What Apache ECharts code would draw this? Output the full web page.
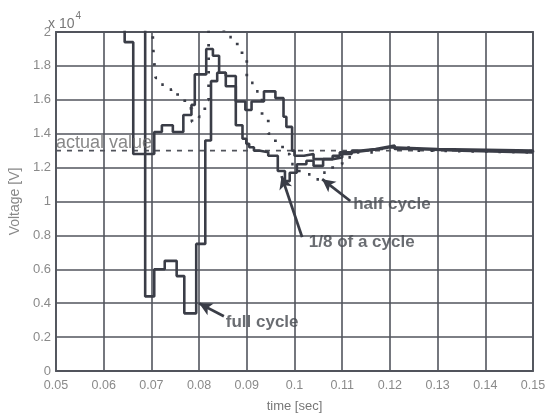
<!DOCTYPE html>
<html>
<head>
<meta charset="utf-8">
<script src="https://cdn.jsdelivr.net/npm/echarts@6/dist/echarts.min.js"></script>
<style>
html,body{margin:0;padding:0;background:#fff;}
#chart{width:551px;height:418px;}
</style>
</head>
<body>
<div id="chart"></div>
<script>
// ---- data (voltage in units of 10^4 V, time in sec) ----
const xTickLabels = ['0.05','0.06','0.07','0.08','0.09','0.1','0.11','0.12','0.13','0.14','0.15'];
const yTickLabels = ['0','0.2','0.4','0.6','0.8','1','1.2','1.4','1.6','1.8','2'];

const fullCycleT = [0.05,0.0644,0.0662,0.0687,0.0706,0.0728,0.0753,0.0769,0.0794,0.0813,0.0825,0.0838,0.0856,0.0877,0.0891,0.0899,0.0905,0.0915,0.0928,0.0945,0.0965,0.0980,0.0990,0.1005,0.1025,0.1040,0.1060,0.1080,0.1095,0.1120,0.1150,0.1180,0.1200,0.1300,0.1500];
const fullCycleV = [2.1,1.94,1.28,0.44,0.60,0.65,0.56,0.34,0.75,1.36,1.71,1.76,1.68,1.45,1.37,1.34,1.32,1.30,1.29,1.27,1.18,1.12,1.17,1.22,1.24,1.21,1.25,1.27,1.29,1.30,1.31,1.32,1.31,1.30,1.29];

const eighthCycleT = [0.05,0.0687,0.0706,0.0722,0.0745,0.0767,0.0784,0.0791,0.0815,0.0829,0.0842,0.0856,0.0877,0.0897,0.0910,0.0936,0.0960,0.0977,0.0983,0.0995,0.1000,0.1020,0.1040,0.1080,0.1100,0.1120,0.1140,0.1170,0.1190,0.1210,0.1250,0.1350,0.1500];
const eighthCycleV = [2.1,1.28,1.41,1.45,1.41,1.51,1.57,1.75,1.90,1.86,1.76,1.74,1.59,1.54,1.59,1.65,1.61,1.50,1.44,1.30,1.27,1.28,1.25,1.26,1.28,1.30,1.31,1.32,1.33,1.31,1.30,1.29,1.29];

const halfCycleT = [0.05,0.0703,0.0706,0.0709,0.0718,0.0728,0.0742,0.0755,0.0770,0.0785,0.0800,0.0812,0.0820,0.0852,0.0880,0.0890,0.0900,0.0918,0.0932,0.0945,0.0960,0.0975,0.0990,0.1010,0.1040,0.1060,0.1080,0.1100,0.1130,0.1170,0.1200,0.1250,0.1300,0.1500];
const halfCycleV = [2.2,1.93,1.82,1.73,1.69,1.66,1.67,1.62,1.55,1.47,1.50,1.60,2.2,1.97,1.92,1.86,1.70,1.65,1.50,1.40,1.34,1.28,1.22,1.16,1.13,1.17,1.22,1.26,1.29,1.31,1.32,1.30,1.29,1.29];

const actualValue = 1.3;

// annotations: [text, t, v]
const annotationTexts = ['full cycle','half cycle','1/8 of a cycle'];
const annotationT = [0.0856,0.1123,0.1030];
const annotationV = [0.287,0.985,0.76];
// arrows: from [t,v] to [t,v]
const arrowFrom = [[0.0852,0.323],[0.1117,1.003],[0.1016,0.79]];
const arrowTo   = [[0.0800,0.399],[0.1058,1.132],[0.0973,1.15]];

const actualLabel = 'actual value';
const actualLabelPos = [0.0500, 1.345];

// ---- chart ----
const zip = (t, v) => t.map((x, i) => [x, v[i]]);
const traceColor = '#3a3d47';
const gridColor = '#52555d';

const chart = echarts.init(document.getElementById('chart'), null, {renderer: 'canvas'});

const option = {
  backgroundColor: '#ffffff',
  animation: false,
  grid: {left: 47, right: 18, top: 32, bottom: 45, show: true, borderColor: '#50535b', borderWidth: 1.8, backgroundColor: 'transparent'},
  xAxis: {
    type: 'value', min: 0.05, max: 0.15, interval: 0.01,
    name: 'time [sec]', nameLocation: 'middle', nameGap: 29,
    nameTextStyle: {color: '#777', fontSize: 13, fontFamily: 'Liberation Sans'},
    axisLine: {show: false}, axisTick: {show: false},
    axisLabel: {color: '#8a8a8a', fontSize: 12.5, margin: 8, fontFamily: 'Liberation Sans',
      formatter: v => xTickLabels[Math.round((v - 0.05) / 0.01)]},
    splitLine: {show: true, lineStyle: {color: gridColor, width: 1.6}}
  },
  yAxis: {
    type: 'value', min: 0, max: 2, interval: 0.2,
    name: 'Voltage [V]', nameLocation: 'middle', nameGap: 29,
    nameTextStyle: {color: '#888', fontSize: 14, fontFamily: 'Liberation Sans'},
    axisLine: {show: false}, axisTick: {show: false},
    axisLabel: {color: '#8a8a8a', fontSize: 13, margin: 5, fontFamily: 'Liberation Sans',
      formatter: v => yTickLabels[Math.round(v / 0.2)]},
    splitLine: {show: true, lineStyle: {color: gridColor, width: 1.6}}
  },
  graphic: [{
    type: 'text', left: 48, top: 11,
    style: {
      text: '{a|x 10}{b|4}',
      rich: {
        a: {fontSize: 14, fill: '#777', fontFamily: 'Liberation Sans', verticalAlign: 'bottom', padding: [6,0,0,0]},
        b: {fontSize: 10, fill: '#777', fontFamily: 'Liberation Sans', verticalAlign: 'top', padding: [0,0,9,1]}
      }
    }
  }],
  series: [
    {
      name: 'actual value', type: 'line', data: [[0.05, actualValue],[0.15, actualValue]],
      showSymbol: false, silent: true,
      lineStyle: {color: '#50535b', width: 1.8, type: [5, 6]}, z: 2
    },
    {
      name: 'full cycle', type: 'line', step: 'end', data: zip(fullCycleT, fullCycleV),
      showSymbol: false, clip: true, lineStyle: {color: traceColor, width: 2.6}, z: 3
    },
    {
      name: '1/8 of a cycle', type: 'line', step: 'end', data: zip(eighthCycleT, eighthCycleV),
      showSymbol: false, clip: true, lineStyle: {color: traceColor, width: 2.6}, z: 3
    },
    {
      name: 'half cycle', type: 'line', step: 'end', data: zip(halfCycleT, halfCycleV),
      showSymbol: false, clip: true, lineStyle: {color: traceColor, width: 2.8, type: [2.5, 11]}, z: 3
    },
    {
      name: 'annotations', type: 'scatter', symbolSize: 0, silent: true, z: 5,
      data: annotationTexts.map((s, i) => ({name: s, value: [annotationT[i], annotationV[i]]})),
      label: {show: true, position: 'right', distance: 0, formatter: p => p.name,
        color: '#45484f', fontSize: 17, fontWeight: 'bold', fontFamily: 'Liberation Sans'},
      markLine: {
        silent: true, symbol: ['none', 'arrow'], symbolSize: [10, 13],
        lineStyle: {color: '#3a3d47', width: 2.8, type: 'solid'},
        label: {show: false},
        data: arrowFrom.map((f, i) => [{coord: f}, {coord: arrowTo[i]}])
      }
    },
    {
      name: 'actual label', type: 'scatter', symbolSize: 0, silent: true, z: 5,
      data: [{name: actualLabel, value: actualLabelPos}],
      label: {show: true, position: 'right', distance: 0, formatter: p => p.name,
        color: '#6a6a6a', fontSize: 18, fontFamily: 'Liberation Sans'}
    }
  ]
};
chart.setOption(option);
</script>
</body>
</html>
